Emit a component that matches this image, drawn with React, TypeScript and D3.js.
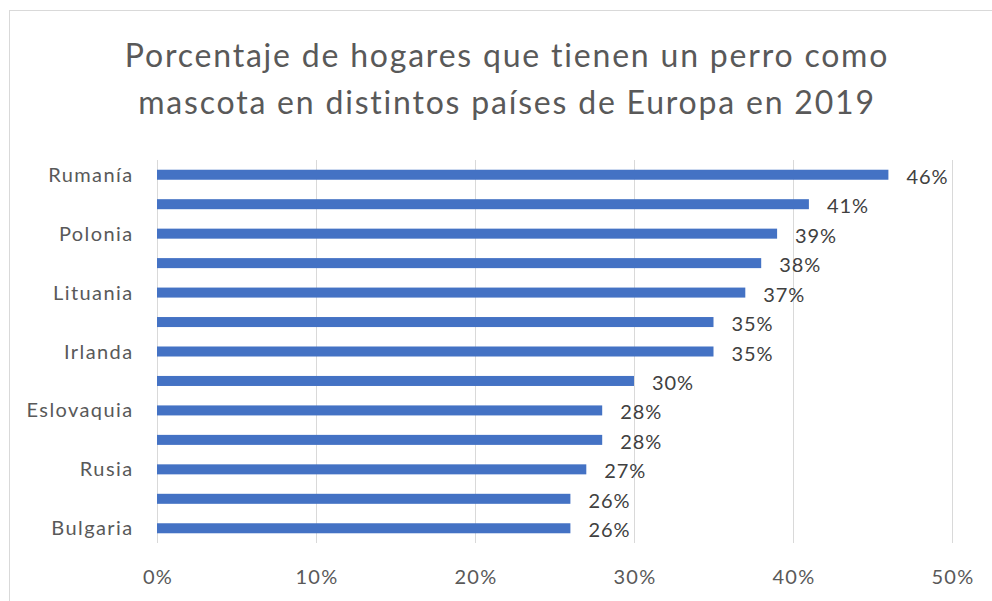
import React, { useEffect, useRef } from 'react';
import * as d3 from 'd3';

// Only every other category label is shown in the original chart
const countries = ['Rumanía', '', 'Polonia', '', 'Lituania', '', 'Irlanda', '', 'Eslovaquia', '', 'Rusia', '', 'Bulgaria'];
const shares = [46, 41, 39, 38, 37, 35, 35, 30, 28, 28, 27, 26, 26];
const xTicks = [0, 10, 20, 30, 40, 50];
const titleLines = [
  'Porcentaje de hogares que tienen un perro como',
  'mascota en distintos países de Europa en 2019',
];

const W = 992;
const H = 601;

const DogChart: React.FC = () => {
  const ref = useRef<SVGSVGElement>(null);

  useEffect(() => {
    if (!ref.current) return;
    const svg = d3.select(ref.current);
    svg.selectAll('*').remove();

    const font = 'Lato, "Open Sans", sans-serif';

    // Chart border
    svg.append('rect')
      .attr('x', 9.5)
      .attr('y', 10.5)
      .attr('width', 990)
      .attr('height', 600)
      .attr('fill', '#fff')
      .attr('stroke', '#d9d9d9');

    // Title
    svg.append('g')
      .selectAll('text')
      .data(titleLines)
      .enter().append('text')
      .attr('x', 507)
      .attr('y', (d, i) => 67 + i * 47)
      .attr('text-anchor', 'middle')
      .attr('fill', '#595959')
      .attr('font-family', font)
      .attr('font-size', '32px')
      .attr('letter-spacing', '1.8px')
      .text(d => d);

    const left = 157;
    const right = 952;
    const top = 160;
    const bottom = 543;

    const x = d3.scaleLinear().domain([0, 50]).range([left, right]);
    const y = d3.scaleBand<number>()
      .domain(shares.map((d, i) => i))
      .range([top, bottom])
      .paddingInner(0.66)
      .paddingOuter(0.33);

    // Gridlines
    svg.append('g')
      .selectAll('line')
      .data(xTicks)
      .enter().append('line')
      .attr('x1', d => Math.round(x(d)) + 0.5)
      .attr('x2', d => Math.round(x(d)) + 0.5)
      .attr('y1', top)
      .attr('y2', bottom)
      .attr('stroke', '#d9d9d9')
      .attr('stroke-width', 1);

    // X tick labels
    svg.append('g')
      .selectAll('text')
      .data(xTicks)
      .enter().append('text')
      .attr('x', d => x(d) + 1)
      .attr('y', 584)
      .attr('text-anchor', 'middle')
      .attr('fill', '#595959')
      .attr('font-family', font)
      .attr('font-size', '20px')
      .attr('letter-spacing', '1.3px')
      .text(d => `${d}%`);

    // Bars
    svg.append('g')
      .selectAll('rect')
      .data(shares)
      .enter().append('rect')
      .attr('x', x(0))
      .attr('y', (d, i) => y(i) || 0)
      .attr('width', d => x(d) - x(0))
      .attr('height', y.bandwidth())
      .attr('fill', '#4472c4');

    // Category labels
    svg.append('g')
      .selectAll('text')
      .data(countries)
      .enter().append('text')
      .attr('x', 133.5)
      .attr('y', (d, i) => (y(i) || 0) + y.bandwidth() / 2)
      .attr('dy', '0.35em')
      .attr('text-anchor', 'end')
      .attr('fill', '#595959')
      .attr('font-family', font)
      .attr('font-size', '20px')
      .attr('letter-spacing', '1.4px')
      .text(d => d);

    // Value labels
    svg.append('g')
      .selectAll('text')
      .data(shares)
      .enter().append('text')
      .attr('x', d => x(d) + 18)
      .attr('y', (d, i) => (y(i) || 0) + y.bandwidth() / 2 + 2)
      .attr('dy', '0.35em')
      .attr('fill', '#404040')
      .attr('font-family', font)
      .attr('font-size', '20px')
      .attr('letter-spacing', '0.9px')
      .text(d => `${d}%`);
  }, []);

  return <svg ref={ref} width={W} height={H} style={{ position: 'absolute', left: 0, top: 0 }} />;
};

export default function App() {
  return <DogChart />;
}
